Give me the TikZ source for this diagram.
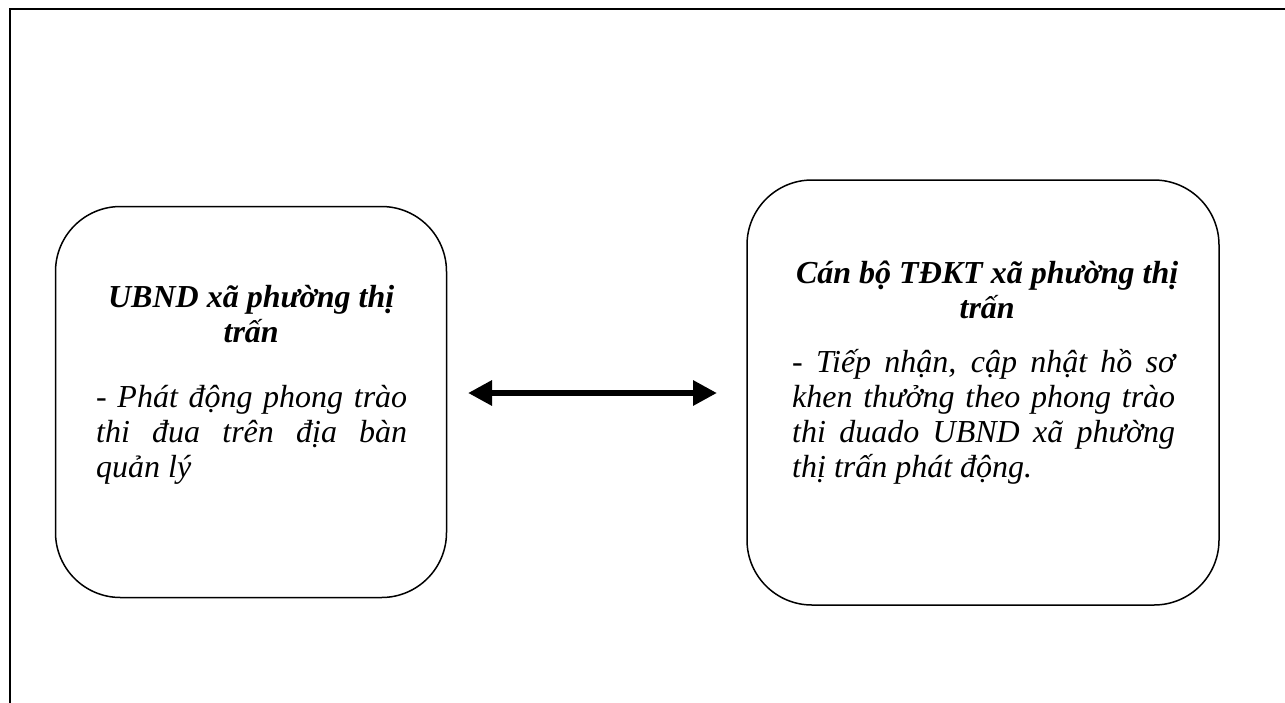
\documentclass[tikz,border=0pt]{standalone}
\usepackage{fontspec}
\setmainfont{Liberation Serif}
\usetikzlibrary{arrows.meta}
\hyphenpenalty=10000
\exhyphenpenalty=10000
\tikzset{
  frameline/.style={line width=2pt, line cap=rect},
  roundbox/.style={draw, line width=1.5pt, rounded corners=65pt, inner sep=0pt},
  titletext/.style={anchor=base west, inner sep=0pt},
  bodytext/.style={anchor=base west, inner sep=0pt},
  link/.style={line width=6pt, {Triangle[length=24pt,width=24pt]}-{Triangle[length=24pt,width=24pt]}}
}
\newcommand{\txtsize}{\fontsize{32}{35}\selectfont}
\begin{document}
\begin{tikzpicture}[x=1pt,y=-1pt]
\useasboundingbox (0,0) rectangle (1285,702);
% partial outer frame
\coordinate (ftl) at (10,9);
\coordinate (ftr) at (1290,9);
\coordinate (fbl) at (10,710);
\draw[frameline] (ftr) -- (ftl) -- (fbl);
% boxes
\node[roundbox, minimum width=391pt, minimum height=391pt] (boxL) at (251,402) {};
\node[roundbox, minimum width=472pt, minimum height=425pt] (boxR) at (983,392.5) {};
% texts
\node[titletext] (titleL) at (75,307) {\parbox[t]{352pt}{\centering\txtsize\bfseries\itshape UBND xã phường thị\\trấn}};
\node[bodytext] (bodyL) at (96,407) {\parbox[t]{311pt}{\txtsize\itshape - Phát động phong trào\linebreak thi đua trên địa bàn\linebreak quản lý}};
\node[titletext] (titleR) at (767,283) {\parbox[t]{440pt}{\centering\txtsize\bfseries\itshape Cán bộ TĐKT xã phường thị\\trấn}};
\node[bodytext] (bodyR) at (792,372) {\parbox[t]{383pt}{\txtsize\itshape - Tiếp nhận, cập nhật hồ sơ\linebreak khen thưởng theo phong trào\linebreak thi duado UBND xã phường\linebreak thị trấn phát động.}};
% connector
\coordinate (aL) at (468,393);
\coordinate (aR) at (717,393);
\draw[link] (aL) -- (aR);
\end{tikzpicture}
\end{document}
